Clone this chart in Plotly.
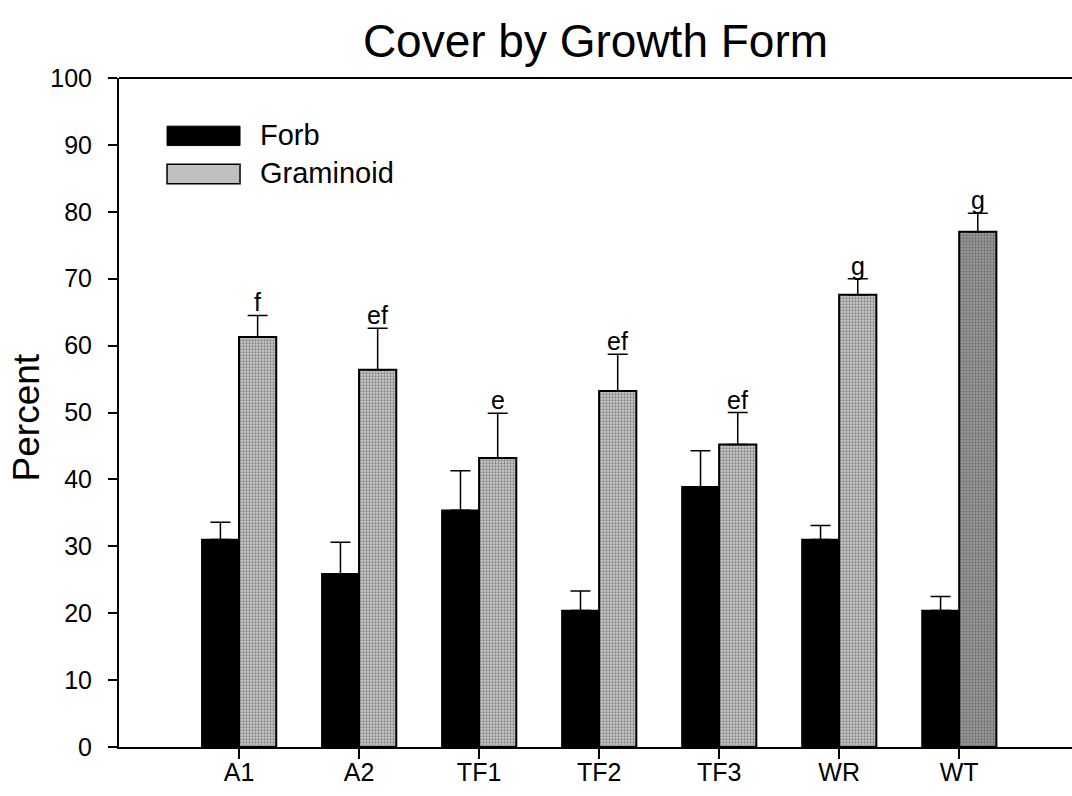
import plotly.graph_objects as go

categories = ["A1", "A2", "TF1", "TF2", "TF3", "WR", "WT"]
forb = [31.0, 25.9, 35.4, 20.4, 38.9, 31.0, 20.4]
forb_err = [2.6, 4.7, 5.9, 2.9, 5.4, 2.1, 2.1]
gram = [61.3, 56.4, 43.2, 53.2, 45.2, 67.6, 77.0]
gram_err = [3.2, 6.2, 6.7, 5.5, 4.8, 2.4, 2.8]
gram_letters = ["f", "ef", "e", "ef", "ef", "g", "g"]
y_ticks = [0, 10, 20, 30, 40, 50, 60, 70, 80, 90, 100]

FONT = "Liberation Sans, Arial, sans-serif"
gram_bg = ["#cacaca"] * 6 + ["#9c9c9c"]
gram_fg = ["#5a5a5a"] * 6 + ["#303030"]

fig = go.Figure()
fig.add_trace(go.Bar(
    x=categories, y=forb, name="Forb",
    marker=dict(color="black", line=dict(color="black", width=1.5)),
    error_y=dict(type="data", array=forb_err, arrayminus=[0] * len(forb),
                 symmetric=False, color="black", thickness=1.5, width=10),
    showlegend=False,
))
fig.add_trace(go.Bar(
    x=categories, y=gram, name="Graminoid",
    marker=dict(color=gram_bg, line=dict(color="black", width=2),
                pattern=dict(shape=".", fgcolor=gram_fg, bgcolor=gram_bg,
                             size=3, solidity=0.45)),
    error_y=dict(type="data", array=gram_err, arrayminus=[0] * len(gram),
                 symmetric=False, color="black", thickness=1.5, width=10),
    showlegend=False,
))

annotations = []
for i, (v, e, t) in enumerate(zip(gram, gram_err, gram_letters)):
    annotations.append(dict(x=i + 0.155, y=v + e, xref="x", yref="y", text=t,
                            showarrow=False, yanchor="bottom", yshift=-3,
                            font=dict(family=FONT, size=25, color="black")))

# y-axis title
annotations.append(dict(x=-0.097, y=0.492, xref="paper", yref="paper", text="Percent",
                        textangle=-90, showarrow=False, xanchor="center", yanchor="middle",
                        font=dict(family=FONT, size=37, color="black")))
# legend (drawn manually to match wide swatches)
annotations.append(dict(x=0.146, y=0.915, xref="paper", yref="paper", text="Forb",
                        showarrow=False, xanchor="left", yanchor="middle",
                        font=dict(family=FONT, size=29, color="black")))
annotations.append(dict(x=0.146, y=0.858, xref="paper", yref="paper", text="Graminoid",
                        showarrow=False, xanchor="left", yanchor="middle",
                        font=dict(family=FONT, size=29, color="black")))

shapes = [
    dict(type="rect", xref="paper", yref="paper", x0=0.0504, x1=0.127, y0=0.899, y1=0.928,
         fillcolor="black", line=dict(color="black", width=1)),
    dict(type="rect", xref="paper", yref="paper", x0=0.0504, x1=0.127, y0=0.842, y1=0.871,
         fillcolor="#c0c0c0", line=dict(color="black", width=1.5)),
    dict(type="line", xref="paper", yref="paper", x0=0, x1=1, y0=1, y1=1,
         line=dict(color="black", width=2)),
]

fig.update_layout(
    width=1072, height=796,
    margin=dict(l=119, r=0, t=78, b=49),
    paper_bgcolor="white", plot_bgcolor="white",
    barmode="group", bargap=0.38, bargroupgap=0,
    title=dict(text="Cover by Growth Form", x=0.5555, xanchor="center",
               y=0.948, yanchor="middle", yref="container",
               font=dict(family=FONT, size=46, color="black")),
    font=dict(family=FONT, size=24, color="black"),
    annotations=annotations, shapes=shapes,
    xaxis=dict(range=[-1, 6.94], showgrid=False, zeroline=False,
               showline=True, linecolor="black", linewidth=2,
               ticks="outside", ticklen=10, tickwidth=1.5, tickcolor="black",
               ticklabelstandoff=-8,
               tickfont=dict(family=FONT, size=25, color="black")),
    yaxis=dict(range=[0, 100], tickvals=y_ticks, showgrid=False, zeroline=False,
               showline=True, linecolor="black", linewidth=2,
               ticks="outside", ticklen=9, tickwidth=1.5, tickcolor="black",
               ticklabelstandoff=11,
               tickfont=dict(family=FONT, size=25, color="black")),
)

fig.write_html("out.html")
